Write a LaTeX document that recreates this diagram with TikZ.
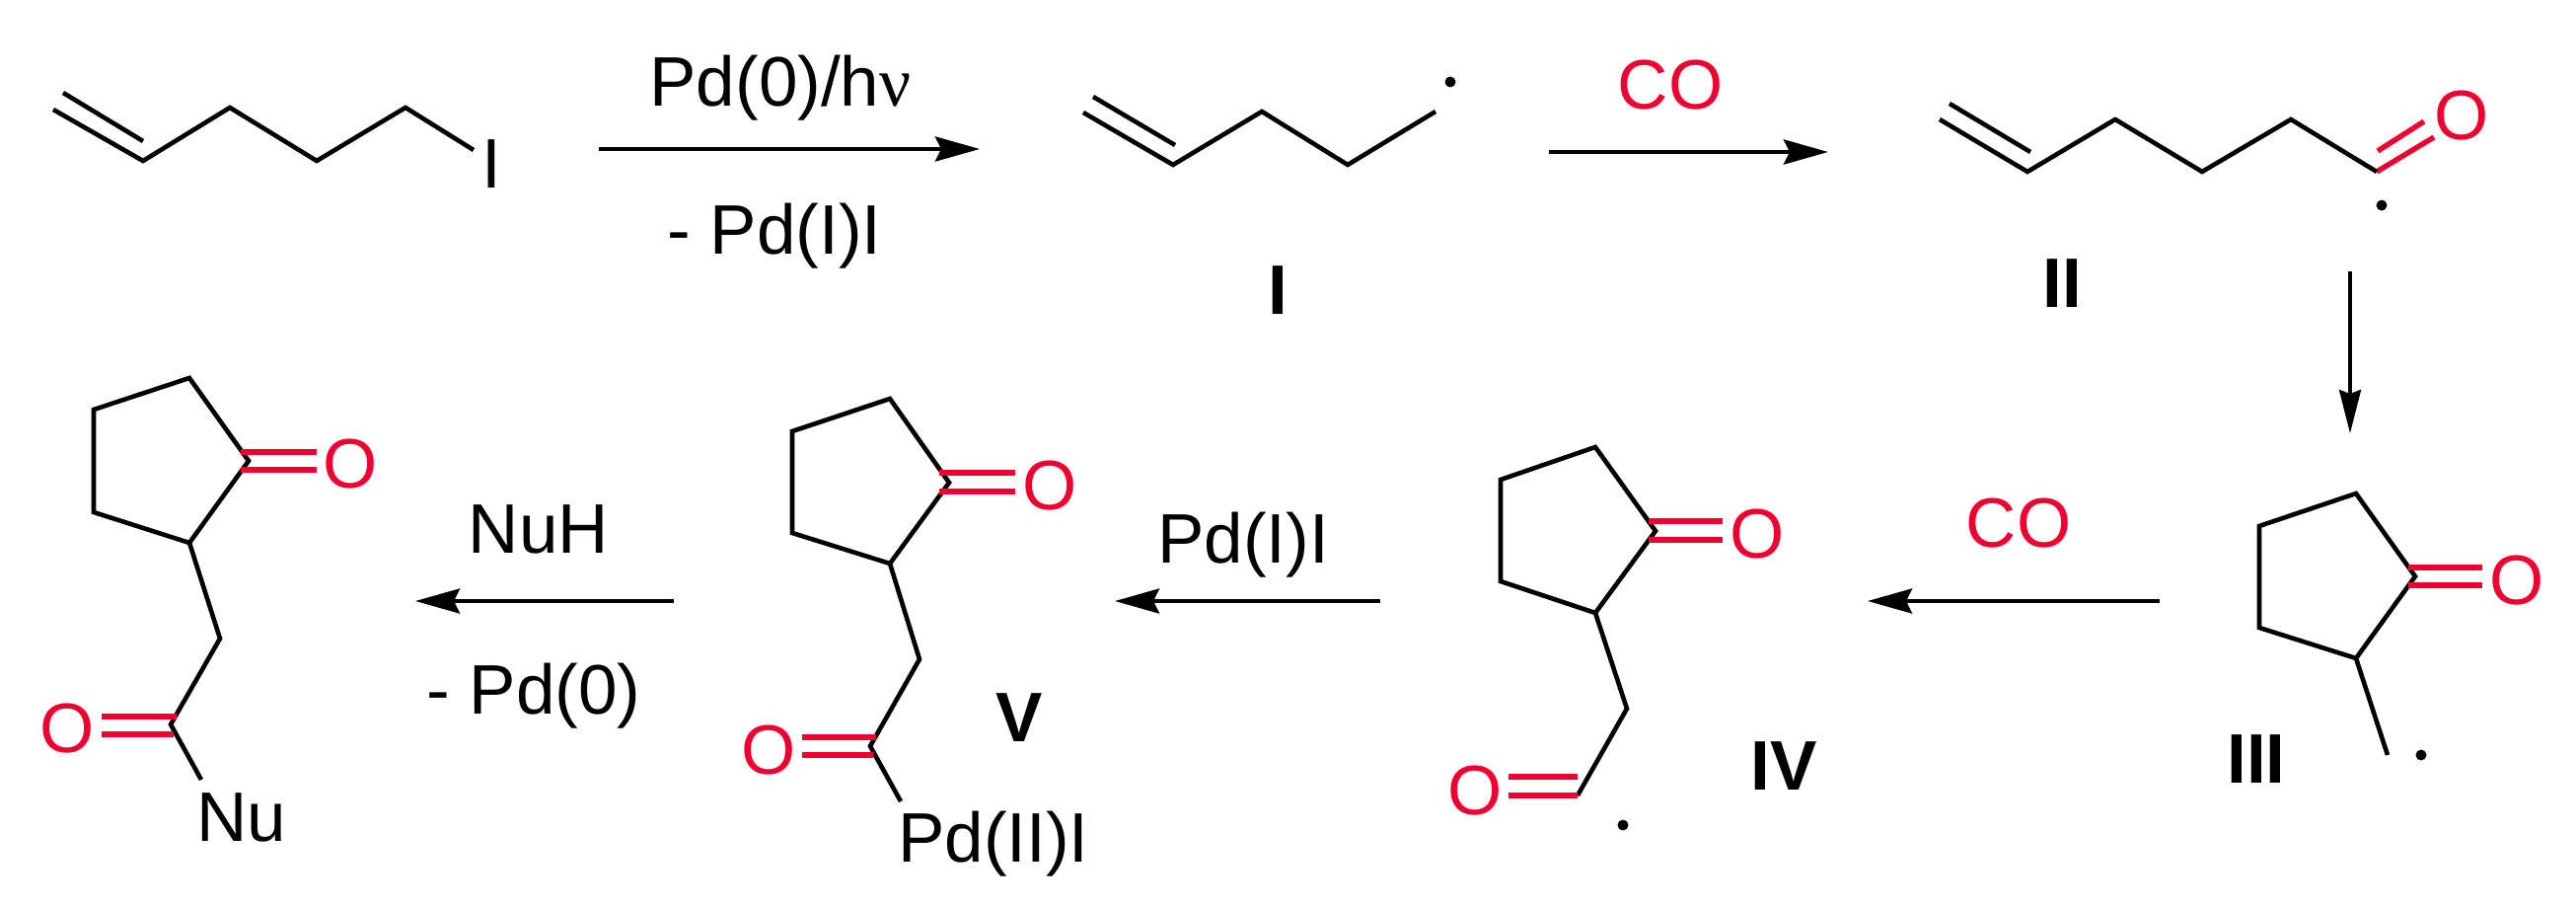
\documentclass[tikz,border=0pt]{standalone}
\usepackage{fontspec}
\setmainfont{Liberation Sans}
\newfontfamily\nufont{Liberation Serif}
\usetikzlibrary{arrows.meta}
\definecolor{oxred}{HTML}{EE0030}
\tikzset{
  bond/.style={draw=black,line width=4.6pt,line join=miter},
  redbond/.style={draw=oxred,line width=5.4pt},
  rxn/.style={draw=black,line width=4.6pt,-{Stealth[length=45pt,width=25pt,inset=6pt]}},
  rxndown/.style={draw=black,line width=3.6pt,-{Stealth[length=44pt,width=22pt,inset=4pt]}},
  txt/.style={inner sep=0pt,anchor=base,font=\fontsize{71}{71}\selectfont},
  oxy/.style={txt,text=oxred},
  lab/.style={txt,font=\fontsize{71}{71}\selectfont\bfseries},
  radical/.style={circle,fill=black,inner sep=0pt,minimum size=11pt}
}
\begin{document}
\begin{tikzpicture}[x=1pt,y=-1pt]
\useasboundingbox (0,0) rectangle (2611,920);
% --- iodide
\coordinate (a1) at (54,111);\coordinate (a1b) at (64,94);\coordinate (a2) at (145,163);\coordinate (a2b) at (145,143);
\coordinate (a3) at (233,109);\coordinate (a4) at (321,163);\coordinate (a5) at (411,109);\coordinate (a6) at (480,152);
\draw[bond] (a1)--(a2)--(a3)--(a4)--(a5)--(a6);
\draw[bond] (a1b)--(a2b);
\node[txt] (iod) at (498,191) {I};
% --- arrow 1
\coordinate (r1s) at (607,151);\coordinate (r1e) at (993,151);
\draw[rxn] (r1s)--(r1e);
\node[txt] (t1) at (791,108) {Pd(0)/h{\nufont ν}};
\node[txt] (t2) at (785,258) {- Pd(I)I};
% --- I
\coordinate (b1) at (1098,114);\coordinate (b1b) at (1108,98);\coordinate (b2) at (1189,167);\coordinate (b2b) at (1191,147);
\coordinate (b3) at (1279,113);\coordinate (b4) at (1366,167);\coordinate (b5) at (1455,113);
\draw[bond] (b1)--(b2)--(b3)--(b4)--(b5);
\draw[bond] (b1b)--(b2b);
\node[radical] (bd) at (1470,83) {};
\node[lab] (lI) at (1295,318) {I};
% --- arrow 2
\coordinate (r2s) at (1570,154);\coordinate (r2e) at (1853,154);
\draw[rxn] (r2s)--(r2e);
\node[oxy] (co1) at (1693,111) {CO};
% --- II
\coordinate (c1) at (1966,121);\coordinate (c1b) at (1976,105);\coordinate (c2) at (2055,174);\coordinate (c2b) at (2058,154);
\coordinate (c3) at (2144,121);\coordinate (c4) at (2232,174);\coordinate (c5) at (2322,121);\coordinate (c6) at (2409,174);
\coordinate (c7) at (2467,139);\coordinate (c8) at (2410,153);\coordinate (c9) at (2457,123);
\draw[redbond] (c6)--(c7);
\draw[redbond] (c8)--(c9);
\draw[bond] (c1)--(c2)--(c3)--(c4)--(c5)--(c6);
\draw[bond] (c1b)--(c2b);
\node[oxy] (oII) at (2495,142) {O};
\node[radical] (cd) at (2414,208) {};
\node[lab] (lII) at (2090,311) {II};
% --- arrow 3
\coordinate (r3s) at (2382,275);\coordinate (r3e) at (2382,439);
\draw[rxndown] (r3s)--(r3e);
% --- III
\coordinate (d1) at (2388,500);\coordinate (d2) at (2290,533);\coordinate (d3) at (2290,636);\coordinate (d4) at (2388,667);\coordinate (d5) at (2448,584);
\coordinate (d6) at (2420,765);
\draw[bond] (d1)--(d2)--(d3)--(d4)--(d5)--cycle;
\draw[bond] (d4)--(d6);
\coordinate (d7) at (2441,575);\coordinate (d8) at (2516,575);\coordinate (d9) at (2441,593);\coordinate (d10) at (2516,593);
\draw[redbond] (d7)--(d8);
\draw[redbond] (d9)--(d10);
\node[oxy] (oIII) at (2551,612) {O};
\node[radical] (dd) at (2454,765) {};
\node[lab] (lIII) at (2287,793) {III};
% --- arrow 4
\coordinate (r4s) at (2189,609);\coordinate (r4e) at (1893,609);
\draw[rxn] (r4s)--(r4e);
\node[oxy] (co2) at (2046,554) {CO};
% --- IV
\coordinate (e1) at (1617,453);\coordinate (e2) at (1521,486);\coordinate (e3) at (1521,589);\coordinate (e4) at (1617,621);\coordinate (e5) at (1678,538);
\coordinate (e6) at (1649,718);\coordinate (e7) at (1599,806);
\draw[bond] (e1)--(e2)--(e3)--(e4)--(e5)--cycle;
\draw[bond] (e4)--(e6)--(e7);
\coordinate (e8) at (1671,528);\coordinate (e9) at (1746,528);\coordinate (e10) at (1671,547);\coordinate (e11) at (1746,547);
\draw[redbond] (e8)--(e9);
\draw[redbond] (e10)--(e11);
\node[oxy] (oIVa) at (1781,565) {O};
\coordinate (e12) at (1529,787);\coordinate (e13) at (1599,787);\coordinate (e14) at (1529,806);
\draw[redbond] (e12)--(e13);
\draw[redbond] (e14)--(e7);
\node[oxy] (oIVb) at (1495,825) {O};
\node[radical] (ed) at (1645,836) {};
\node[lab] (lIV) at (1808,800) {IV};
% --- arrow 5
\coordinate (r5s) at (1399,609);\coordinate (r5e) at (1130,609);
\draw[rxn] (r5s)--(r5e);
\node[txt] (t5) at (1260,570) {Pd(I)I};
% --- V
\coordinate (f1) at (902,404);\coordinate (f2) at (803,437);\coordinate (f3) at (803,540);\coordinate (f4) at (902,571);\coordinate (f5) at (962,489);
\coordinate (f6) at (932,668);\coordinate (f7) at (882,756);\coordinate (f8) at (913,812);
\draw[bond] (f1)--(f2)--(f3)--(f4)--(f5)--cycle;
\draw[bond] (f4)--(f6)--(f7)--(f8);
\coordinate (f9) at (952,479);\coordinate (f10) at (1029,479);\coordinate (f11) at (952,498);\coordinate (f12) at (1029,498);
\draw[redbond] (f9)--(f10);
\draw[redbond] (f11)--(f12);
\node[oxy] (oVa) at (1064,516) {O};
\coordinate (f13) at (813,747);\coordinate (f14) at (888,747);\coordinate (f15) at (813,765);\coordinate (f16) at (885,765);
\draw[redbond] (f13)--(f14);
\draw[redbond] (f15)--(f16);
\node[oxy] (oVb) at (779,784) {O};
\node[txt] (pd2) at (1007,873) {Pd(II)I};
\node[lab] (lV) at (1033,751) {V};
% --- arrow 6
\coordinate (r6s) at (683,609);\coordinate (r6e) at (421,609);
\draw[rxn] (r6s)--(r6e);
\node[txt] (t6) at (546,560) {NuH};
\node[txt] (t7) at (541,723) {- Pd(0)};
% --- product
\coordinate (g1) at (192,383);\coordinate (g2) at (95,415);\coordinate (g3) at (95,519);\coordinate (g4) at (192,550);\coordinate (g5) at (252,467);
\coordinate (g6) at (223,647);\coordinate (g7) at (173,734);\coordinate (g8) at (204,790);
\draw[bond] (g1)--(g2)--(g3)--(g4)--(g5)--cycle;
\draw[bond] (g4)--(g6)--(g7)--(g8);
\coordinate (g9) at (244,458);\coordinate (g10) at (321,458);\coordinate (g11) at (244,476);\coordinate (g12) at (321,476);
\draw[redbond] (g9)--(g10);
\draw[redbond] (g11)--(g12);
\node[oxy] (oPa) at (355,494) {O};
\coordinate (g13) at (103,726);\coordinate (g14) at (179,726);\coordinate (g15) at (103,744);\coordinate (g16) at (176,744);
\draw[redbond] (g13)--(g14);
\draw[redbond] (g15)--(g16);
\node[oxy] (oPb) at (68,762) {O};
\node[txt] (nu) at (245,852) {Nu};
\end{tikzpicture}
\end{document}
